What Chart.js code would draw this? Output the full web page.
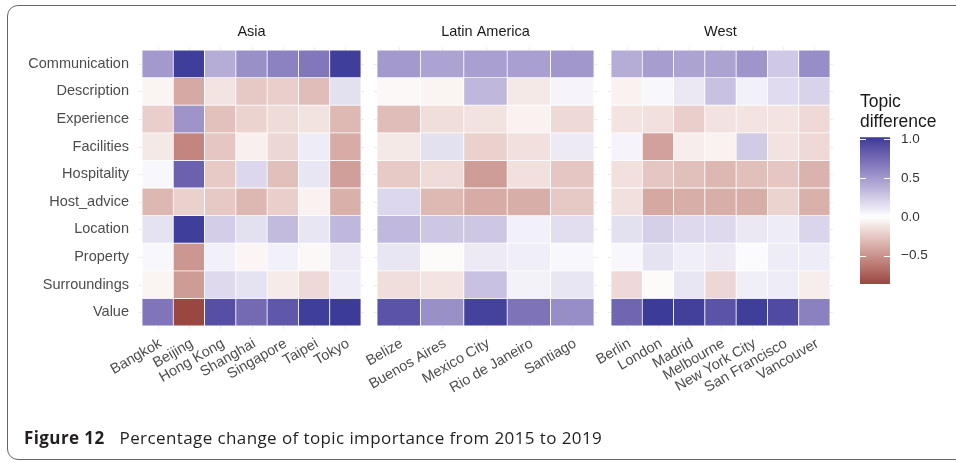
<!DOCTYPE html>
<html>
<head>
<meta charset="utf-8">
<script src="https://cdn.jsdelivr.net/npm/chart.js@4.4.0/dist/chart.umd.min.js"></script>
<style>
  html, body { margin: 0; padding: 0; background: #fff; }
  #wrap { position: relative; width: 956px; height: 462px; overflow: hidden; }
  #wrap canvas { position: absolute; left: 0; top: 0; }
  #frame { position: absolute; left: 7px; top: 5px; width: 1000px; height: 455px; border: 1.4px solid #666; border-radius: 11px; box-sizing: border-box; }
  #caption { position: absolute; left: 24px; top: 428px; font-family: "Open Sans"; font-size: 17px; letter-spacing: 0.4px; line-height: 20px; color: #231f20; white-space: nowrap; }
  #caption b { margin-right: 15px; }
</style>
</head>
<body>
<div id="wrap">
  <div id="frame"></div>
  <canvas id="asia" width="956" height="462"></canvas>
  <canvas id="latin" width="956" height="462"></canvas>
  <canvas id="west" width="956" height="462"></canvas>
  <canvas id="scale" width="956" height="462"></canvas>
  <div id="caption"><b>Figure 12</b>Percentage change of topic importance from 2015 to 2019</div>
</div>
<script>
var rows = ['Communication', 'Description', 'Experience', 'Facilities', 'Hospitality',
            'Host_advice', 'Location', 'Property', 'Surroundings', 'Value'];

var asiaCities = ['Bangkok', 'Beijing', 'Hong Kong', 'Shanghai', 'Singapore', 'Taipei', 'Tokyo'];
var latinCities = ['Belize', 'Buenos Aires', 'Mexico City', 'Rio de Janeiro', 'Santiago'];
var westCities = ['Berlin', 'London', 'Madrid', 'Melbourne', 'New York City', 'San Francisco', 'Vancouver'];

// one inner array per topic (same order as rows), one value per city
var asiaValues = [
  [0.50, 1.00, 0.40, 0.55, 0.62, 0.68, 1.00],
  [-0.05, -0.39, -0.12, -0.25, -0.22, -0.30, 0.15],
  [-0.22, 0.53, -0.28, -0.20, -0.16, -0.13, -0.32],
  [-0.10, -0.56, -0.26, -0.07, -0.18, 0.09, -0.38],
  [0.04, 0.80, -0.24, 0.19, -0.29, 0.12, -0.44],
  [-0.33, -0.21, -0.25, -0.33, -0.22, -0.06, -0.36],
  [0.14, 1.00, 0.24, 0.15, 0.33, 0.12, 0.35],
  [0.04, -0.48, 0.07, -0.04, 0.07, -0.03, 0.10],
  [-0.05, -0.46, 0.18, 0.14, -0.09, -0.17, 0.09],
  [0.69, -0.865, 0.90, 0.75, 0.86, 1.00, 1.02]
];
var latinValues = [
  [0.50, 0.45, 0.47, 0.47, 0.51],
  [-0.03, -0.05, 0.35, -0.10, 0.05],
  [-0.30, -0.15, -0.13, -0.06, -0.17],
  [-0.10, 0.15, -0.21, -0.14, 0.10],
  [-0.24, -0.16, -0.45, -0.14, -0.26],
  [0.19, -0.32, -0.38, -0.37, -0.25],
  [0.34, 0.27, 0.27, 0.07, 0.16],
  [0.12, -0.02, 0.10, 0.08, 0.04],
  [-0.15, -0.12, 0.30, 0.06, 0.12],
  [0.88, 0.55, 0.98, 0.70, 0.56]
];
var westValues = [
  [0.40, 0.48, 0.45, 0.45, 0.52, 0.26, 0.56],
  [-0.06, 0.04, 0.11, 0.30, 0.07, 0.17, 0.21],
  [-0.12, -0.14, -0.22, -0.13, -0.12, -0.12, -0.17],
  [0.05, -0.43, -0.08, -0.06, 0.25, -0.13, -0.17],
  [-0.14, -0.26, -0.29, -0.33, -0.29, -0.26, -0.35],
  [-0.14, -0.40, -0.37, -0.37, -0.37, -0.20, -0.36],
  [0.15, 0.23, 0.18, 0.18, 0.11, 0.09, 0.20],
  [0.04, 0.14, 0.08, 0.10, 0.02, 0.09, 0.09],
  [-0.17, -0.02, 0.12, -0.18, 0.08, 0.09, -0.08],
  [0.78, 1.02, 0.99, 0.88, 1.00, 0.93, 0.63]
];

var legendTicks = [-0.5, 0, 0.5, 1.0];
var limitLo = -0.865, limitHi = 1.026;

var fontFamily = '"Liberation Sans", Arial, sans-serif';
Chart.defaults.font.family = fontFamily;

// --- colour scale: white mid, muted red / muted blue ends, mixed in Lab like ggplot
function lin(c) { c = c / 255; return c <= 0.04045 ? c / 12.92 : Math.pow((c + 0.055) / 1.055, 2.4); }
function delin(c) {
  c = c <= 0.0031308 ? 12.92 * c : 1.055 * Math.pow(c, 1 / 2.4) - 0.055;
  return Math.round(Math.max(0, Math.min(1, c)) * 255);
}
function f(t) { return t > 0.008856 ? Math.cbrt(t) : 7.787 * t + 16 / 116; }
function finv(t) { return t * t * t > 0.008856 ? t * t * t : (t - 16 / 116) / 7.787; }
function toLab(rgb) {
  var r = lin(rgb[0]), g = lin(rgb[1]), b = lin(rgb[2]);
  var x = (0.4124 * r + 0.3576 * g + 0.1805 * b) / 0.95047;
  var y = 0.2126 * r + 0.7152 * g + 0.0722 * b;
  var z = (0.0193 * r + 0.1192 * g + 0.9505 * b) / 1.08883;
  return [116 * f(y) - 16, 500 * (f(x) - f(y)), 200 * (f(y) - f(z))];
}
function fromLab(lab) {
  var fy = (lab[0] + 16) / 116, fx = fy + lab[1] / 500, fz = fy - lab[2] / 200;
  var x = finv(fx) * 0.95047, y = finv(fy), z = finv(fz) * 1.08883;
  return [delin(3.2406 * x - 1.5372 * y - 0.4986 * z),
          delin(-0.9689 * x + 1.8758 * y + 0.0415 * z),
          delin(0.0557 * x - 0.2040 * y + 1.0570 * z)];
}
var lowLab = toLab([0x83, 0x24, 0x24]);
var midLab = toLab([255, 255, 255]);
var highLab = toLab([0x3a, 0x3a, 0x98]);
var maxAbs = Math.max(-limitLo, limitHi);

function fillFor(v) {
  var s = Math.min(Math.abs(v) / maxAbs, 1);
  var end = v < 0 ? lowLab : highLab;
  var rgb = fromLab([0, 1, 2].map(function (i) { return midLab[i] + (end[i] - midLab[i]) * s; }));
  return 'rgb(' + rgb.join(',') + ')';
}

// facet strip label above each panel
var stripPlugin = {
  id: 'strip',
  afterDraw: function (chart, args, opts) {
    var a = chart.chartArea, c = chart.ctx;
    c.save();
    c.font = '14.5px ' + fontFamily;
    c.fillStyle = '#1a1a1a';
    c.textAlign = 'center';
    c.textBaseline = 'middle';
    c.fillText(opts.text, (a.left + a.right) / 2, 32);
    c.restore();
  }
};

// light grid lines that peek out a few px round the tiles
var gridPlugin = {
  id: 'panelGrid',
  beforeDatasetsDraw: function (chart) {
    var a = chart.chartArea, c = chart.ctx, xs = chart.scales.x, ys = chart.scales.y;
    c.save();
    c.strokeStyle = '#ebebeb';
    c.lineWidth = 1;
    c.beginPath();
    xs.ticks.forEach(function (t, i) {
      var x = Math.round(xs.getPixelForTick(i)) + 0.5;
      c.moveTo(x, a.top - 3); c.lineTo(x, a.bottom + 3);
    });
    rows.forEach(function (r, i) {
      var y = Math.round(ys.getPixelForValue(i + 0.5)) + 0.5;
      c.moveTo(a.left - 3, y); c.lineTo(a.right + 3, y);
    });
    c.stroke();
    c.restore();
  }
};

function panelChart(id, title, cities, values, padLeft, padRight, showY) {
  var datasets = rows.map(function (r, i) {
    return {
      label: r,
      data: cities.map(function () { return 1; }),
      backgroundColor: values[i].map(fillFor),
      borderColor: '#ffffff',
      borderWidth: 0.75,
      borderSkipped: false,
      categoryPercentage: 1,
      barPercentage: 1
    };
  });
  return new Chart(document.getElementById(id), {
    type: 'bar',
    data: { labels: cities, datasets: datasets },
    options: {
      responsive: false,
      animation: false,
      layout: { padding: { left: padLeft, right: padRight, top: 50, bottom: 0 } },
      plugins: {
        legend: { display: false },
        tooltip: { enabled: false },
        strip: { text: title }
      },
      scales: {
        x: {
          stacked: true,
          grid: { display: false, drawTicks: false },
          border: { display: false },
          ticks: {
            autoSkip: false, minRotation: 30, maxRotation: 30,
            padding: 9, labelOffset: 3,
            color: '#4d4d4d', font: { size: 14.5 }
          },
          afterFit: function (s) { s.height = 136; }
        },
        y: {
          stacked: true,
          reverse: true,
          min: 0,
          max: rows.length,
          display: showY,
          grid: { display: false, drawTicks: false },
          border: { display: false },
          afterBuildTicks: function (s) {
            s.ticks = rows.map(function (r, i) { return { value: i + 0.5 }; });
          },
          ticks: {
            callback: function (v, i) { return rows[i]; },
            padding: 13,
            color: '#4d4d4d', font: { size: 14.5 }
          },
          afterFit: function (s) { if (showY) s.width = 142; }
        }
      }
    },
    plugins: [stripPlugin, gridPlugin]
  });
}

panelChart('asia', 'Asia', asiaCities, asiaValues, 0, 956 - 361, true);
panelChart('latin', 'Latin America', latinCities, latinValues, 377, 956 - 594, false);
panelChart('west', 'West', westCities, westValues, 611, 956 - 830, false);

// colour bar legend
var tickMarks = {
  id: 'tickMarks',
  afterDatasetsDraw: function (chart) {
    var a = chart.chartArea, c = chart.ctx, ys = chart.scales.y;
    c.save();
    c.strokeStyle = '#ffffff';
    c.lineWidth = 1;
    c.beginPath();
    legendTicks.forEach(function (v) {
      var y = Math.round(ys.getPixelForValue(v)) + 0.5;
      c.moveTo(a.left, y); c.lineTo(a.left + 6, y);
      c.moveTo(a.right - 6, y); c.lineTo(a.right, y);
    });
    c.stroke();
    c.restore();
  }
};

new Chart(document.getElementById('scale'), {
  type: 'bar',
  data: {
    labels: [''],
    datasets: [{
      data: [[limitLo, limitHi]],
      backgroundColor: function (ctx) {
        var ch = ctx.chart;
        if (!ch.chartArea) return null;
        var ys = ch.scales.y;
        var g = ch.ctx.createLinearGradient(0, ys.getPixelForValue(limitLo), 0, ys.getPixelForValue(limitHi));
        for (var k = 0; k <= 60; k++) {
          g.addColorStop(k / 60, fillFor(limitLo + (limitHi - limitLo) * k / 60));
        }
        return g;
      },
      borderWidth: 0,
      categoryPercentage: 1,
      barPercentage: 1
    }]
  },
  options: {
    responsive: false,
    animation: false,
    layout: { padding: { left: 860, right: 16, top: 92, bottom: 178 } },
    plugins: {
      legend: { display: false },
      tooltip: { enabled: false },
      title: {
        display: true,
        text: ['Topic', 'difference'],
        align: 'start',
        color: '#1a1a1a',
        font: { size: 17.5, weight: 'normal', lineHeight: 1.15 },
        padding: { top: 0, bottom: 5 }
      }
    },
    scales: {
      x: { display: false },
      y: {
        position: 'right',
        min: limitLo,
        max: limitHi,
        grid: { display: false, drawTicks: false },
        border: { display: false },
        afterBuildTicks: function (s) {
          s.ticks = legendTicks.map(function (v) { return { value: v }; });
        },
        ticks: {
          callback: function (v) { return (v < 0 ? '\u2212' : '') + Math.abs(v).toFixed(1); },
          padding: 11,
          color: '#333333', font: { size: 13.5 }
        },
        afterFit: function (s) { s.width = 50; }
      }
    }
  },
  plugins: [tickMarks]
});
</script>
</body>
</html>
